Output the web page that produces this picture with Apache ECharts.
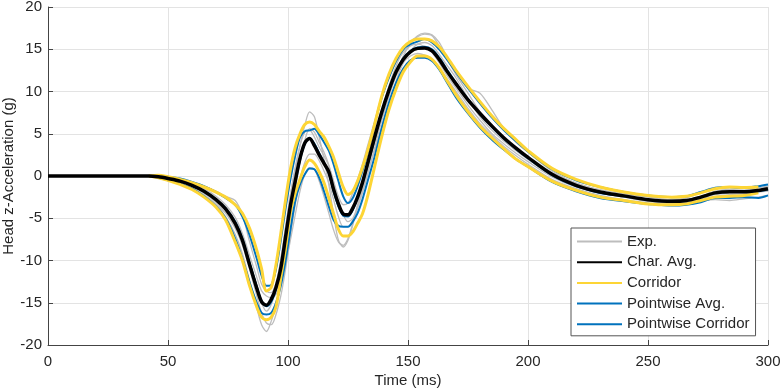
<!DOCTYPE html>
<html><head><meta charset="utf-8">
<script src="https://cdn.jsdelivr.net/npm/echarts@6/dist/echarts.min.js"></script>
<style>html,body{margin:0;padding:0;background:#fff}#c{width:782px;height:392px}</style>
</head><body><div id="c"></div>
<script>
const timeMs = [
 0, 42, 46, 50, 55, 60, 65, 70, 74, 78,
 81, 84, 87, 89, 91, 93, 95, 97, 99, 101,
 103, 105, 107, 109, 111, 113, 115, 117, 119, 121,
 123, 125, 127, 129, 131, 133, 136, 139, 142, 145,
 148, 151, 154, 157, 160, 163, 166, 170, 175, 180,
 185, 190, 195, 200, 210, 220, 230, 240, 250, 260,
 266, 272, 278, 284, 290, 296, 300];
const charAvg = [
 0, 0, -0.1, -0.3, -0.6, -1.1, -1.8, -2.8, -3.9, -5.6,
 -7.6, -10.5, -13.3, -14.9, -15.3, -14.6, -13.2, -10.9, -7.2, -3.5,
 -0.6, 2.1, 3.9, 4.45, 3.6, 2.5, 1.5, 0.5, -1.6, -3.3,
 -4.5, -4.6, -3.8, -2.5, -0.8, 1.3, 4.5, 7.5, 10.1, 12.3,
 13.8, 14.7, 15.1, 15.15, 14.8, 13.8, 12.5, 10.9, 9.0, 7.4,
 5.9, 4.5, 3.3, 2.2, 0.2, -1.1, -1.9, -2.35, -2.8, -3.0,
 -2.9, -2.5, -2.0, -1.85, -1.85, -1.7, -1.5];
const corridorUpper = [
 null, 0, 0.1, -0.1, -0.4, -0.8, -1.3, -1.9, -2.5, -3.4,
 -4.4, -6.2, -8.8, -11.0, -13.6, -13.2, -10.5, -6.8, -2.8, 0.8,
 3.4, 5.0, 6.1, 6.4, 6.1, 5.3, 4.6, 3.5, 2.2, 0.4,
 -1.3, -2.2, -1.8, -0.6, 1.0, 2.8, 6.0, 9.4, 12.0, 13.9,
 15.2, 15.9, 16.2, 16.2, 16.0, 15.3, 14.2, 12.5, 10.6, 8.8,
 7.1, 5.6, 4.3, 3.0, 0.9, -0.4, -1.3, -1.9, -2.3, -2.5,
 -2.4, -2.0, -1.5, -1.3, -1.35, -1.3, null];
const corridorLower = [
 null, 0, -0.2, -0.5, -1.0, -1.6, -2.5, -3.7, -5.2, -7.8,
 -10.0, -13.0, -15.5, -16.7, -17.0, -16.7, -15.5, -12.0, -8.5, -4.3,
 -2.0, -0.4, 1.1, 1.9, 1.5, 0.5, -0.8, -2.6, -4.5, -6.3,
 -7.1, -7.1, -6.6, -5.6, -4.5, -2.6, 1.0, 4.6, 7.8, 10.3,
 12.3, 13.5, 14.2, 14.2, 13.8, 12.8, 11.4, 9.6, 7.6, 5.9,
 4.5, 3.2, 2.0, 1.1, -0.6, -1.7, -2.5, -2.9, -3.3, -3.4,
 -3.3, -2.9, -2.5, -2.4, -2.3, -2.0, null];
const pointwiseAvg = [
 null, 0, -0.1, -0.3, -0.6, -1.1, -1.8, -2.8, -3.8, -5.4,
 -7.4, -10.3, -13.1, -14.8, -15.4, -14.9, -13.4, -11.0, -7.6, -3.9,
 -0.8, 1.9, 3.8, 4.5, 3.8, 2.7, 1.6, 0.3, -1.8, -3.6,
 -4.7, -4.8, -4.0, -2.6, -0.9, 1.1, 4.3, 7.5, 10.1, 12.3,
 13.9, 14.8, 15.2, 15.3, 15.0, 14.0, 12.7, 11.0, 9.1, 7.3,
 5.8, 4.4, 3.2, 2.1, 0.1, -1.2, -2.0, -2.4, -2.8, -3.0,
 -2.9, -2.5, -2.0, -1.9, -1.9, -1.8, -1.6];
const pointwiseUpper = [
 null, 0, 0, -0.1, -0.3, -0.7, -1.2, -1.9, -2.6, -3.4,
 -4.8, -7.0, -9.8, -11.8, -13.0, -12.9, -11.0, -7.6, -3.8, -0.4,
 2.4, 4.6, 5.3, 5.4, 5.6, 4.9, 4.0, 3.0, 1.4, -0.6,
 -2.4, -3.2, -2.6, -1.2, 0.6, 2.6, 6.0, 9.2, 11.6, 13.6,
 15.0, 15.6, 15.9, 16.2, 15.8, 15.0, 13.9, 12.3, 10.4, 8.6,
 6.9, 5.4, 4.1, 2.9, 0.8, -0.5, -1.3, -1.9, -2.3, -2.5,
 -2.4, -1.9, -1.4, -1.3, -1.4, -1.2, -1.0];
const pointwiseLower = [
 null, 0, -0.2, -0.5, -0.9, -1.5, -2.4, -3.6, -5.0, -7.4,
 -9.8, -12.6, -15.0, -16.2, -16.4, -16.2, -15.0, -13.0, -10.0, -6.4,
 -3.0, -1.0, 0.2, 0.9, 0.8, -0.2, -1.8, -3.6, -5.2, -5.9,
 -6.0, -6.0, -5.4, -4.4, -2.8, -0.8, 2.2, 5.6, 8.6, 11.0,
 12.7, 13.7, 14.0, 14.0, 13.6, 12.6, 11.2, 9.3, 7.4, 5.7,
 4.3, 3.1, 2.0, 1.1, -0.7, -1.8, -2.6, -3.0, -3.3, -3.5,
 -3.4, -3.1, -2.6, -2.6, -2.5, -2.6, -2.3];
const exp1 = [
 0, 0, -0.1, -0.4, -0.8, -1.4, -2.2, -3.4, -4.8, -6.9,
 -9.2, -12.4, -15.6, -17.6, -18.4, -17.2, -15.4, -12.8, -9.0, -5.0,
 -1.6, 1.6, 4.2, 5.6, 5.2, 4.0, 2.8, 1.3, -0.8, -3.0,
 -4.6, -5.4, -5.0, -3.6, -1.6, 0.6, 4.0, 7.6, 10.6, 13.0,
 14.8, 15.9, 16.5, 16.8, 16.6, 15.4, 14.0, 12.0, 9.8, 7.6,
 5.8, 4.3, 3.1, 2.0, 0.0, -1.2, -2.0, -2.5, -3.0, -3.2,
 -3.1, -2.8, -2.4, -2.2, -2.1, -1.9, -1.8];
const exp2 = [
 0, 0, 0.1, -0.2, -0.4, -0.8, -1.2, -1.8, -2.4, -2.9,
 -4.6, -7.8, -10.8, -12.8, -13.6, -13.8, -12.6, -10.0, -6.2, -2.4,
 0.8, 3.6, 6.0, 7.6, 7.0, 4.6, 2.0, -1.0, -4.6, -7.6,
 -8.4, -7.6, -5.8, -3.4, -1.0, 1.0, 3.8, 6.6, 9.4, 12.0,
 14.2, 15.6, 16.6, 16.9, 16.7, 15.8, 14.2, 12.2, 10.4, 9.8,
 7.8, 5.6, 4.0, 2.8, 0.6, -0.8, -1.6, -2.1, -2.5, -2.8,
 -2.6, -2.0, -1.5, -1.4, -1.5, -1.4, -1.2];
const exp3 = [
 0, 0, -0.1, -0.3, -0.7, -1.2, -2.0, -3.1, -4.4, -6.2,
 -8.2, -11.0, -14.2, -16.2, -17.4, -17.6, -16.4, -14.2, -11.0, -7.0,
 -3.4, -0.4, 1.6, 2.6, 2.6, 1.8, 0.6, -0.8, -2.8, -4.8,
 -6.0, -6.0, -5.2, -3.8, -2.0, 0.0, 3.2, 6.6, 9.4, 11.8,
 13.4, 14.2, 14.5, 14.3, 13.8, 12.8, 11.6, 10.0, 8.0, 6.2,
 4.8, 3.5, 2.4, 1.4, -0.4, -1.5, -2.3, -2.8, -3.2, -3.4,
 -3.3, -3.0, -2.8, -2.9, -2.7, -2.5, -2.3];
const exp4 = [
 0, 0, 0, -0.2, -0.5, -0.9, -1.5, -2.4, -3.4, -4.9,
 -6.8, -9.4, -12.0, -13.6, -14.2, -14.4, -14.0, -12.6, -10.4, -7.6,
 -4.6, -1.8, 0.2, 1.0, 0.8, -0.6, -2.4, -4.4, -6.4, -7.8,
 -8.2, -7.4, -5.6, -3.6, -1.8, 0.2, 3.0, 5.8, 8.6, 11.2,
 13.4, 14.8, 15.6, 15.8, 15.4, 14.4, 13.2, 11.6, 9.2, 7.0,
 5.4, 4.1, 3.0, 2.0, 0.4, -0.9, -1.8, -2.3, -2.7, -2.9,
 -2.8, -2.4, -1.8, -1.6, -1.7, -1.6, -1.4];
const exp5 = [
 0, 0, -0.2, -0.5, -0.9, -1.5, -2.3, -3.3, -4.4, -5.8,
 -7.6, -10.2, -13.0, -15.0, -16.0, -15.2, -13.2, -9.8, -6.0, -2.2,
 1.0, 3.6, 5.2, 5.4, 4.6, 3.4, 2.4, 1.2, -0.6, -2.4,
 -3.4, -3.2, -2.0, -0.4, 1.4, 3.4, 6.4, 9.4, 11.6, 13.4,
 14.6, 15.4, 15.6, 15.3, 14.6, 13.4, 12.0, 10.4, 8.4, 6.6,
 5.0, 3.8, 2.7, 1.7, -0.1, -1.3, -2.0, -2.5, -2.9, -3.2,
 -3.1, -2.7, -2.2, -2.0, -1.9, -1.8, -1.6];
const legendNames = ['Exp.', 'Char. Avg.', 'Corridor', 'Pointwise Avg.', 'Pointwise Corridor'];
const xTicks = [0, 50, 100, 150, 200, 250, 300];
const yTicks = [-20, -15, -10, -5, 0, 5, 10, 15, 20];

const FONT = 'Liberation Sans, Arial, Helvetica, sans-serif';
const GRAY = '#bdbdbd', BLACK = '#000000', YELLOW = '#FDD535', BLUE = '#0072BD';
function pts(arr){ return timeMs.map((t,i)=>[t, arr[i] === undefined ? null : arr[i]]); }
function line(name, arr, color, width, z){
  return {name, type:'line', data:pts(arr), symbol:'none', showSymbol:false, smooth:0.3,
    connectNulls:false, z, lineStyle:{color, width}, itemStyle:{color}, emphasis:{disabled:true}};
}
const series = [
  line('Exp.', exp1, GRAY, 1.3, 1),
  line('Exp.', exp2, GRAY, 1.3, 1),
  line('Exp.', exp3, GRAY, 1.3, 1),
  line('Exp.', exp4, GRAY, 1.3, 1),
  line('Exp.', exp5, GRAY, 1.3, 1),
  line('Pointwise Avg.', pointwiseAvg, BLUE, 2, 2),
  line('Pointwise Corridor', pointwiseUpper, BLUE, 2, 3),
  line('Pointwise Corridor', pointwiseLower, BLUE, 2, 3),
  line('Corridor', corridorUpper, YELLOW, 3, 4),
  line('Corridor', corridorLower, YELLOW, 3, 4),
  line('Char. Avg.', charAvg, BLACK, 3.5, 5)
];
const chart = echarts.init(document.getElementById('c'), null, {renderer:'canvas'});
chart.setOption({
  animation:false,
  backgroundColor:'#ffffff',
  grid:{left:48, right:14, top:7, bottom:47, containLabel:false, outerBoundsMode:'none'},
  xAxis:{type:'value', min:xTicks[0], max:xTicks[xTicks.length-1], interval:50,
    name:'Time (ms)', nameLocation:'middle', nameGap:28, nameMoveOverlap:false,
    nameTextStyle:{fontFamily:FONT, fontSize:15, color:'#262626'},
    axisLine:{show:true, onZero:false, lineStyle:{color:'#444', width:1}},
    axisTick:{show:true, inside:true, length:5, lineStyle:{color:'#444'}},
    axisLabel:{fontFamily:FONT, fontSize:15, color:'#262626', margin:9},
    splitLine:{show:true, lineStyle:{color:'#e3e3e3', width:1}}},
  yAxis:{type:'value', min:yTicks[0], max:yTicks[yTicks.length-1], interval:5,
    name:'Head z-Acceleration (g)', nameLocation:'middle', nameGap:32, nameMoveOverlap:false,
    nameTextStyle:{fontFamily:FONT, fontSize:15, color:'#262626'},
    axisLine:{show:true, onZero:false, lineStyle:{color:'#444', width:1}},
    axisTick:{show:true, inside:true, length:5, lineStyle:{color:'#444'}},
    axisLabel:{fontFamily:FONT, fontSize:15, color:'#262626', margin:6},
    splitLine:{show:true, lineStyle:{color:'#e3e3e3', width:1}}},
  legend:{data:legendNames, orient:'vertical', left:571, top:228,
    itemWidth:45, itemHeight:14, itemGap:5.7, padding:[6,6,4,5],
    backgroundColor:'#ffffff', borderColor:'#555', borderWidth:1, borderRadius:0,
    selectedMode:false, itemStyle:{opacity:0},
    textStyle:{fontFamily:FONT, fontSize:15, color:'#262626'}},
  series
});
</script></body></html>
